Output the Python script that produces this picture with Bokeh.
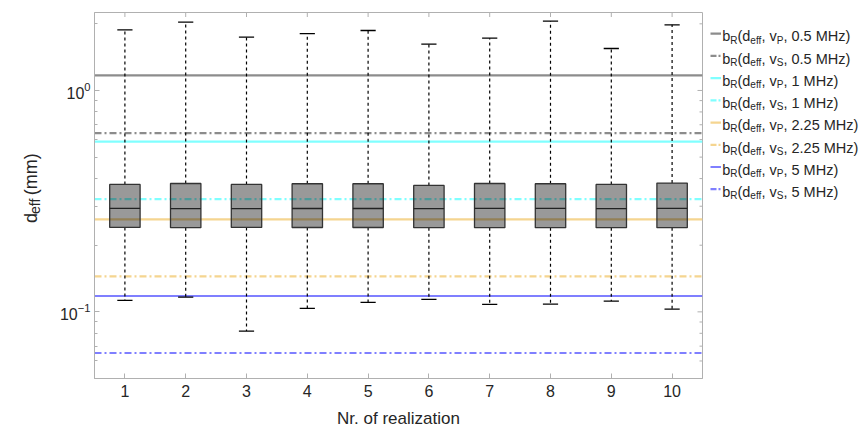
import numpy as np
from bokeh.plotting import figure
from bokeh.models import Range1d, FixedTicker, Span, ColumnDataSource
from bokeh.layouts import row, column
from bokeh.embed import file_html
from bokeh.resources import INLINE
from bokeh.core.properties import value

# ---------------- data ----------------
realization = [1, 2, 3, 4, 5, 6, 7, 8, 9, 10]
q1 = [0.2407, 0.2400, 0.2407, 0.2405, 0.2405, 0.2400, 0.2400, 0.2400, 0.2400, 0.2400]
median = [0.2933, 0.2925, 0.2925, 0.2930, 0.2930, 0.2925, 0.2933, 0.2933, 0.2925, 0.2933]
q3 = [0.3764, 0.3800, 0.3764, 0.3790, 0.3790, 0.3726, 0.3800, 0.3790, 0.3765, 0.3815]
whisker_low = [0.1127, 0.1166, 0.0819, 0.1037, 0.1104, 0.1139, 0.1081, 0.1084, 0.1119, 0.1029]
whisker_high = [1.879, 2.034, 1.740, 1.808, 1.866, 1.618, 1.722, 2.055, 1.547, 1.980]

freq_labels = ["0.5", "1", "2.25", "5"]
bR_vP = [1.169, 0.588, 0.2616, 0.1179]
bR_vS = [0.6416, 0.323, 0.1446, 0.0652]
line_colors = ["#8c8c8c", "#80ffff", "#f5d590", "#7f7fff"]

x_ticks = [1, 2, 3, 4, 5, 6, 7, 8, 9, 10]
y_major = [0.1, 1.0]
y_minor = [0.05, 0.06, 0.07, 0.08, 0.09, 0.2, 0.3, 0.4, 0.5, 0.6, 0.7, 0.8, 0.9, 2.0]
x_lim = (0.5, 10.5)
y_lim = (0.05, 2.25)

FONT = "Liberation Sans"
TXT = "#262626"
AX = "#b0b0b0"
H1 = 402
DASHDOT = "7 3 2 3"

# Arial/Liberation Sans advance widths (per 1000 em)
ADV = {' ': 278, '(': 333, ')': 333, ',': 278, '.': 278, 'M': 833, 'H': 722, 'z': 500,
       'b': 556, 'd': 556, 'e': 556, 'f': 278, 'v': 500, 'R': 722, 'P': 667, 'S': 667, 'm': 833}
for c in "0123456789":
    ADV[c] = 556


def tw(s, size):
    return sum(ADV.get(c, 556) for c in s) * size / 1000.0


# ---------------- main plot ----------------
p = figure(width=655, height=H1, x_range=Range1d(*x_lim), y_range=Range1d(*y_lim),
           y_axis_type="log", output_backend="svg", toolbar_location=None,
           min_border_left=41, min_border_right=6, min_border_top=12, min_border_bottom=24)
p.grid.visible = False
p.outline_line_color = AX
p.background_fill_color = "white"
p.border_fill_color = "white"

p.xaxis.ticker = FixedTicker(ticks=x_ticks)
p.yaxis.ticker = FixedTicker(ticks=y_major, minor_ticks=y_minor)
for ax in (p.xaxis[0], p.yaxis[0]):
    ax.axis_line_color = AX
    ax.major_tick_line_color = AX
    ax.minor_tick_line_color = AX
    ax.major_tick_in = 5
    ax.major_tick_out = 0
    ax.minor_tick_in = 3
    ax.minor_tick_out = 0
    ax.major_label_text_font = FONT
    ax.major_label_text_font_size = "16px"
    ax.major_label_text_color = TXT
p.xaxis.major_label_standoff = 6
p.yaxis.major_label_standoff = 4

# mirrored ticks on top and right border (half of each dash is clipped by the frame)
p.scatter(x=x_ticks, y=[y_lim[1]] * len(x_ticks), marker="dash", angle=np.pi / 2, size=9,
          line_color=AX, line_width=1)
p.scatter(x=[x_lim[1]] * len(y_major), y=y_major, marker="dash", size=10, line_color=AX, line_width=1)
p.scatter(x=[x_lim[1]] * len(y_minor), y=y_minor, marker="dash", size=6, line_color=AX, line_width=1)

# horizontal reference lines
for i in range(len(freq_labels)):
    p.add_layout(Span(location=bR_vP[i], dimension="width", line_color=line_colors[i],
                      line_width=2.2, level="underlay"))
    p.add_layout(Span(location=bR_vS[i], dimension="width", line_color=line_colors[i],
                      line_width=2.2, line_dash=DASHDOT, level="underlay"))

x = np.array(realization, dtype=float)
src = ColumnDataSource(dict(x=x, q1=q1, med=median, q3=q3, lo=whisker_low, hi=whisker_high,
                            bl=x - 0.25, br=x + 0.25, cl=x - 0.125, cr=x + 0.125))
# whiskers
p.segment(x0="x", x1="x", y0="q3", y1="hi", source=src, line_color="black", line_width=1.2, line_dash="3 3")
p.segment(x0="x", x1="x", y0="q1", y1="lo", source=src, line_color="black", line_width=1.2, line_dash="3 3")
p.segment(x0="cl", x1="cr", y0="hi", y1="hi", source=src, line_color="black", line_width=1.3)
p.segment(x0="cl", x1="cr", y0="lo", y1="lo", source=src, line_color="black", line_width=1.3)
# boxes
p.quad(left="bl", right="br", bottom="q1", top="q3", source=src, fill_color="black", fill_alpha=0.4,
       line_color="#333333", line_width=1.3)
p.segment(x0="bl", x1="br", y0="med", y1="med", source=src, line_color="#222222", line_width=1.3)

# ---------------- y label strip ----------------
LABW = 53
lab = figure(width=LABW, height=H1, x_range=Range1d(0, LABW), y_range=Range1d(0, H1),
             x_axis_location=None, y_axis_location=None, output_backend="svg",
             toolbar_location=None, min_border=0)
lab.grid.visible = False
lab.outline_line_color = None
ys_main, ys_sub = 18, 14
segs = [("d", ys_main, 30.0, 0.0), ("eff", ys_sub, 34.0, 0.0), ("(mm)", ys_main, 30.0, tw(" ", ys_main))]
L = sum(tw(s, f) + gap for s, f, _, gap in segs)
ycen = H1 - 195
pos = ycen - L / 2
for s, f, bx, gap in segs:
    pos += gap
    lab.text(x=[bx], y=[pos], text=[s], angle=np.pi / 2, text_font=value(FONT),
             text_font_size=f"{f}px", text_color=TXT, text_align="left", text_baseline="alphabetic")
    pos += tw(s, f)

# ---------------- legend strip ----------------
LW = 154
leg = figure(width=LW, height=H1, x_range=Range1d(0, LW), y_range=Range1d(H1, 0),
             x_axis_location=None, y_axis_location=None, output_backend="svg",
             toolbar_location=None, min_border=0)
leg.grid.visible = False
leg.outline_line_color = None
fm, fs = 14.5, 10
row_i = 0
for i, fl in enumerate(freq_labels):
    for kind, dash in (("P", "solid"), ("S", "6 2 2 2")):
        cy = 23.3 + 24.4 * row_i
        leg.line(x=[2, 12.5], y=[cy, cy], line_color=line_colors[i], line_width=2.2, line_dash=dash)
        parts = [("b", fm), ("R", fs), ("(d", fm), ("eff", fs), (", v", fm), (kind, fs),
                 (f", {fl} MHz)", fm)]
        tx = 13.7
        for s, f in parts:
            by = cy + 3 if f == fm else cy + 7
            leg.text(x=[tx], y=[by], text=[s], text_font=value(FONT), text_font_size=f"{f}px",
                     text_color=TXT, text_align="left", text_baseline="alphabetic")
            tx += tw(s, f)
        row_i += 1

# ---------------- x label strip ----------------
SH = 426 - H1
TOTW = LABW + 655 + LW
bot = figure(width=TOTW, height=SH, x_range=Range1d(0, TOTW), y_range=Range1d(SH, 0),
             x_axis_location=None, y_axis_location=None, output_backend="svg",
             toolbar_location=None, min_border=0)
bot.grid.visible = False
bot.outline_line_color = None
bot.text(x=[398], y=[15.6], text=["Nr. of realization"], text_font=value(FONT), text_font_size="17px",
         text_color=TXT, text_align="center", text_baseline="alphabetic")

layout = column(row(lab, p, leg, spacing=0), bot, spacing=0)
open("out.html", "w").write(file_html(layout, INLINE))
